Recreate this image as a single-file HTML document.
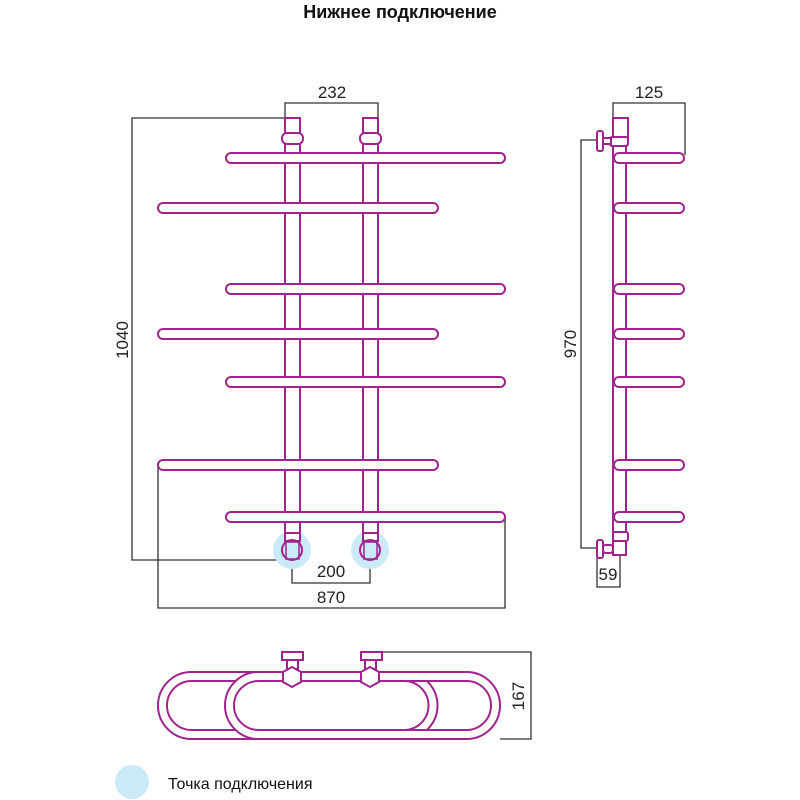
<!DOCTYPE html>
<html><head><meta charset="utf-8"><style>
html,body{margin:0;padding:0;background:#fff;width:800px;height:800px;overflow:hidden}
svg{display:block}
</style></head><body>
<svg width="800" height="800" viewBox="0 0 800 800" xmlns="http://www.w3.org/2000/svg">
<text x="400" y="18" text-anchor="middle" font-family="Liberation Sans, sans-serif" font-weight="bold" font-size="18" fill="#111">Нижнее подключение</text>

<g fill="none" stroke="#333" stroke-width="1.3">
<polyline points="285,118 285,103 378,103 378,118"/>
<polyline points="285,118 132,118 132,560 290,560"/>
<polyline points="292,557 292,583 370,583 370,557"/>
<polyline points="158,462 158,608 505,608 505,517"/>
<polyline points="613,118 613,103 685,103 685,155"/>
<polyline points="597,140 581,140 581,548 597,548"/>
<polyline points="597,553 597,587 620,587 620,556"/>
<polyline points="382,652 531,652 531,739 500,739"/>
</g>
<g font-family="Liberation Sans, sans-serif" font-size="17" fill="#222" text-anchor="middle">
<text x="332" y="98">232</text>
<text x="649" y="98">125</text>
<text x="331" y="577">200</text>
<text x="331" y="603">870</text>
<text x="608" y="580">59</text>
<text transform="translate(128,340) rotate(-90)">1040</text>
<text transform="translate(576,344) rotate(-90)">970</text>
<text transform="translate(524,696) rotate(-90)">167</text>
</g>

<circle cx="292" cy="550" r="19" fill="#cbe9f7"/>
<circle cx="370" cy="550" r="19" fill="#cbe9f7"/>
<circle cx="132" cy="782" r="17" fill="#cbe9f7"/>
<text x="168" y="789" font-family="Liberation Sans, sans-serif" font-size="16" fill="#111">Точка подключения</text>

<g fill="#fff" stroke="#a0238f" stroke-width="2">
<rect x="285" y="118" width="15" height="420"/>
<rect x="363" y="118" width="15" height="420"/>
<rect x="282" y="133" width="21" height="11" rx="5"/>
<rect x="360" y="133" width="21" height="11" rx="5"/>
<rect x="226" y="153" width="279" height="10" rx="5"/>
<rect x="158" y="203" width="280" height="10" rx="5"/>
<rect x="226" y="284" width="279" height="10" rx="5"/>
<rect x="158" y="329" width="280" height="10" rx="5"/>
<rect x="226" y="377" width="279" height="10" rx="5"/>
<rect x="158" y="460" width="280" height="10" rx="5"/>
<rect x="226" y="512" width="279" height="10" rx="5"/>
<rect x="285" y="533" width="15" height="8"/>
<rect x="363" y="533" width="15" height="8"/>
<circle cx="292" cy="550" r="10" fill="none"/>
<circle cx="370" cy="550" r="10" fill="none"/>
<rect x="286" y="542" width="13" height="17" fill="none" stroke-width="1.5"/>
<rect x="364" y="542" width="13" height="17" fill="none" stroke-width="1.5"/>

<rect x="613" y="118" width="13" height="436"/>
<rect x="613" y="118" width="15" height="22"/>
<rect x="610" y="137" width="18" height="9" rx="2"/>
<rect x="597" y="131" width="6" height="20" rx="2"/>
<rect x="603" y="138" width="8" height="6"/>
<rect x="614" y="153" width="70" height="10" rx="5"/>
<rect x="614" y="203" width="70" height="10" rx="5"/>
<rect x="614" y="284" width="70" height="10" rx="5"/>
<rect x="614" y="329" width="70" height="10" rx="5"/>
<rect x="614" y="377" width="70" height="10" rx="5"/>
<rect x="614" y="460" width="70" height="10" rx="5"/>
<rect x="614" y="512" width="70" height="10" rx="5"/>
<rect x="613" y="532" width="15" height="9" rx="2"/>
<rect x="613" y="541" width="13" height="14"/>
<rect x="597" y="540" width="6" height="18" rx="2"/>
<rect x="603" y="545" width="10" height="8" rx="3"/>
</g>

<g fill="none" stroke="#a0238f" stroke-width="2">
<path d="M191.5,672 H404 A33.5,33.5 0 0 1 404,739 H191.5 A33.5,33.5 0 0 1 191.5,672 Z"/>
<path d="M191.5,681 H404 A24.5,24.5 0 0 1 404,730 H191.5 A24.5,24.5 0 0 1 191.5,681 Z"/>
<path fill="#fff" fill-rule="evenodd" d="M258.5,672 H466.5 A33.5,33.5 0 0 1 466.5,739 H258.5 A33.5,33.5 0 0 1 258.5,672 Z M258.5,681 A24.5,24.5 0 0 0 258.5,730 H466.5 A24.5,24.5 0 0 0 466.5,681 Z"/>
<g fill="#fff">
<rect x="282" y="652" width="21" height="8"/>
<rect x="361" y="652" width="21" height="8"/>
<rect x="287" y="660" width="11" height="9"/>
<rect x="365" y="660" width="11" height="9"/>
<polygon points="292,667 301,672 301,682 292,687 283,682 283,672"/>
<polygon points="370,667 379,672 379,682 370,687 361,682 361,672"/>
</g>
</g>
</svg>
</body></html>
